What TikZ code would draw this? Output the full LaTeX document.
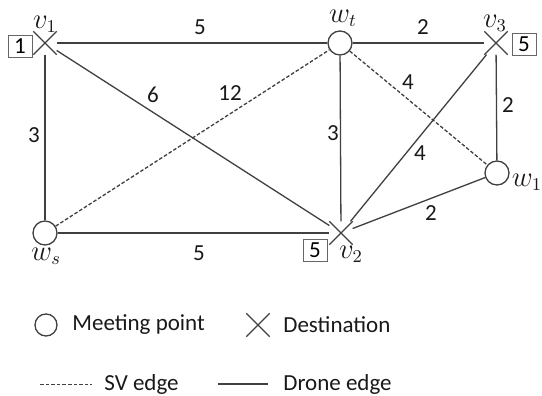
\documentclass[tikz,border=0pt]{standalone}
\usepackage{fontspec}
\setmainfont{Carlito}
\usetikzlibrary{shapes.misc}

\tikzset{
  meet/.style={circle, draw=black!75, line width=0.65pt, minimum size=12pt, inner sep=0pt},
  dest/.style={cross out, draw=black!75, line width=0.65pt, minimum size=11pt, inner sep=0pt},
  drone/.style={draw=black!75, line width=0.65pt},
  sv/.style={draw=black!75, line width=0.65pt, dash pattern=on 1.8pt off 1pt},
  demand/.style={draw=black!60, line width=0.5pt, minimum width=12pt, minimum height=11pt, inner sep=0pt},
  lbl/.style={text=black!90, inner sep=0pt},
  vname/.style={lbl, font=\fontsize{13.5}{15}\selectfont}
}

\begin{document}
\begin{tikzpicture}[x=0.5pt, y=-0.5pt, font=\fontsize{11.5}{13}\selectfont]
    \useasboundingbox (0,0) rectangle (542,396);

    % Vertices
    \node[dest] (v1) at (45,43) {};
    \node[meet] (wt) at (340,43) {};
    \node[dest] (v3) at (496,43) {};
    \node[meet] (w1) at (497,173) {};
    \node[meet] (ws) at (45,233) {};
    \node[dest] (v2) at (341,233) {};

    % Vertex names and demands
    \node[vname] (nv1) at (45,24) {$v_1$};
    \node[vname] (nwt) at (343,18) {$w_t$};
    \node[vname] (nv3) at (495,23) {$v_3$};
    \node[vname] (nw1) at (527,182) {$w_1$};
    \node[vname] (nws) at (46,256) {$w_s$};
    \node[vname] (nv2) at (351,254) {$v_2$};
    \node[demand] (d1) at (20,46) {1};
    \node[demand] (d3) at (524,44) {5};
    \node[demand] (d2) at (315,250) {5};

    % Drone edges
    \draw[drone] (v1) -- (wt);
    \draw[drone] (wt) -- (v3);
    \draw[drone] (v1) -- (ws);
    \draw[drone] (v1) -- (v2);
    \draw[drone] (wt) -- (v2);
    \draw[drone] (v3) -- (w1);
    \draw[drone] (v3) -- (v2);
    \draw[drone] (w1) -- (v2);
    \draw[drone] (ws) -- (v2);

    % SV edges
    \draw[sv] (ws) -- (wt);
    \draw[sv] (wt) -- (w1);

    % Edge weights
    \node[lbl] (c1) at (200,27) {5};
    \node[lbl] (c2) at (423,27) {2};
    \node[lbl] (c3) at (34,135) {3};
    \node[lbl] (c4) at (153,95) {6};
    \node[lbl] (c5) at (230,93) {12};
    \node[lbl] (c6) at (333,133) {3};
    \node[lbl] (c7) at (408,82) {4};
    \node[lbl] (c8) at (508,105) {2};
    \node[lbl] (c9) at (420,153) {4};
    \node[lbl] (c10) at (431,213) {2};
    \node[lbl] (c11) at (199,253) {5};

    % Legend
    \node[meet, minimum size=11pt] (lm) at (46,325) {};
    \node[lbl, anchor=west] (tm) at (72,325) {Meeting point};
    \node[dest] (ld) at (258,325) {};
    \node[lbl, anchor=west] (td) at (283,325) {Destination};
    \coordinate (sa) at (40,384);
    \coordinate (sb) at (92,384);
    \draw[sv, line width=0.5pt] (sa) -- (sb);
    \node[lbl, anchor=west] (ts) at (104,384) {SV edge};
    \coordinate (da) at (218,384);
    \coordinate (db) at (268,384);
    \draw[drone] (da) -- (db);
    \node[lbl, anchor=west] (tdr) at (283,384) {Drone edge};
\end{tikzpicture}
\end{document}
